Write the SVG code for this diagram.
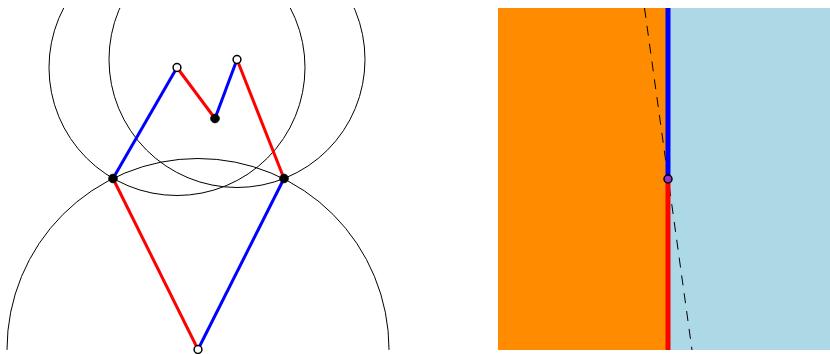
<svg xmlns="http://www.w3.org/2000/svg" width="830" height="354" viewBox="0 0 830 354">
<style>
.circ{fill:none;stroke:#000;stroke-width:1}
.b{stroke:#0000ff;stroke-width:3;fill:none}
.r{stroke:#ff0000;stroke-width:3;fill:none}
.pf{fill:#000;stroke:#000;stroke-width:1}
.ph{fill:#fff;stroke:#000;stroke-width:1.5}
</style>
<defs>
<clipPath id="cl"><rect x="0" y="8" width="400" height="342"/></clipPath>
<clipPath id="cr"><rect x="498" y="8" width="332" height="342"/></clipPath>
</defs>
<g id="left" clip-path="url(#cl)">
<g id="circles">
<circle class="circ" cx="198" cy="349.5" r="191"/>
<circle class="circ" cx="177" cy="67.5" r="128"/>
<circle class="circ" cx="237" cy="59.5" r="128"/>
</g>
<g id="connectors">
<line class="b" x1="113" y1="178.5" x2="177" y2="67.5"/>
<line class="r" x1="177" y1="67.5" x2="215" y2="118.5"/>
<line class="b" x1="215" y1="118.5" x2="237" y2="59.5"/>
<line class="r" x1="237" y1="59.5" x2="284" y2="178.5"/>
<line class="b" x1="284" y1="178.5" x2="198" y2="349.5"/>
<line class="r" x1="198" y1="349.5" x2="113" y2="178.5"/>
</g>
</g>
<g id="p1"><circle class="pf" cx="113" cy="178.5" r="4.3"/></g>
<g id="p2"><circle class="pf" cx="284" cy="178.5" r="4.3"/></g>
<g id="p3"><circle class="pf" cx="215" cy="118.5" r="4.3"/></g>
<g id="p4"><circle class="ph" cx="177" cy="67.5" r="3.9"/></g>
<g id="p5"><circle class="ph" cx="237" cy="59.5" r="3.9"/></g>
<g id="p6"><circle class="ph" cx="198" cy="349.5" r="3.9"/></g>
<g id="right" clip-path="url(#cr)">
<rect x="498" y="8" width="170" height="342" fill="#ff8c00"/>
<rect x="668" y="8" width="162" height="342" fill="#add8e6"/>
<line x1="644.5" y1="8" x2="692" y2="350" stroke="#000" stroke-width="1" stroke-dasharray="10,8"/>
<line x1="668" y1="8" x2="668" y2="179" stroke="#0000ff" stroke-width="5"/>
<line x1="668" y1="179" x2="668" y2="350" stroke="#ff0000" stroke-width="5"/>
</g>
<g id="p7"><circle cx="668" cy="179" r="4" fill="#9932cc" stroke="#000" stroke-width="1.5"/></g>
</svg>
